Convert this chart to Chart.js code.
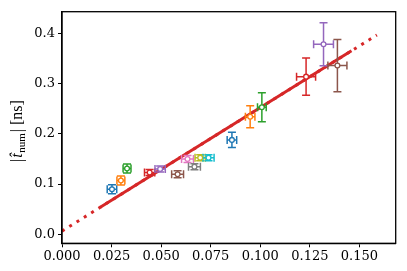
<!DOCTYPE html>
<html>
<head>
<meta charset="utf-8">
<script src="https://cdn.jsdelivr.net/npm/chart.js@4.4.0/dist/chart.umd.min.js"></script>
<style>
  html, body { margin: 0; padding: 0; background: #fff; }
</style>
</head>
<body>
<canvas id="chart" width="407" height="271"></canvas>
<script>
// measured points (x, y) with symmetric errors
const xVals = [0.0252, 0.0297, 0.0328, 0.0442, 0.0495, 0.0583, 0.0633, 0.0668, 0.0697, 0.0739, 0.0857, 0.0949, 0.1008, 0.1231, 0.1319, 0.1389];
const yVals = [0.0896, 0.107, 0.131, 0.123, 0.130, 0.1195, 0.150, 0.1347, 0.1526, 0.1526, 0.188, 0.234, 0.253, 0.314, 0.3785, 0.336];
const xErr = [0.0024, 0.0020, 0.0020, 0.0026, 0.0026, 0.0030, 0.0030, 0.0030, 0.0026, 0.0028, 0.0024, 0.0024, 0.0022, 0.0048, 0.0050, 0.0048];
const yErr = [0.009, 0.009, 0.009, 0.006, 0.006, 0.007, 0.007, 0.006, 0.006, 0.006, 0.015, 0.022, 0.029, 0.037, 0.043, 0.052];

const tab10 = ["#1f77b4", "#ff7f0e", "#2ca02c", "#d62728", "#9467bd", "#8c564b", "#e377c2", "#7f7f7f", "#bcbd22", "#17becf"];
const pointColors = xVals.map((_, i) => tab10[i % 10]);

const xTicks = [0, 0.025, 0.05, 0.075, 0.1, 0.125, 0.15];
const yTicks = [0, 0.1, 0.2, 0.3, 0.4];

// linear fit
const fitSlope = 2.46;
const fitIntercept = 0.0063;
const fitSolidRange = [0.0193, 0.146];
const fitDottedRange = [0, 0.1588];

const fitLine = (r) => r.map((x) => ({ x: x, y: fitSlope * x + fitIntercept }));

const errorBars = {
  id: "errorBars",
  beforeDatasetDraw(chart, args) {
    if (args.index !== 0) return;
    const { ctx, scales } = chart;
    const cap = 4;
    ctx.save();
    ctx.lineWidth = 1.5;
    xVals.forEach((xv, i) => {
      const px = scales.x.getPixelForValue(xv);
      const py = scales.y.getPixelForValue(yVals[i]);
      const x0 = scales.x.getPixelForValue(xv - xErr[i]);
      const x1 = scales.x.getPixelForValue(xv + xErr[i]);
      const y0 = scales.y.getPixelForValue(yVals[i] - yErr[i]);
      const y1 = scales.y.getPixelForValue(yVals[i] + yErr[i]);
      ctx.strokeStyle = pointColors[i];
      ctx.beginPath();
      ctx.moveTo(x0, py); ctx.lineTo(x1, py);
      ctx.moveTo(px, y0); ctx.lineTo(px, y1);
      // caps
      ctx.moveTo(x0, py - cap); ctx.lineTo(x0, py + cap);
      ctx.moveTo(x1, py - cap); ctx.lineTo(x1, py + cap);
      ctx.moveTo(px - cap, y0); ctx.lineTo(px + cap, y0);
      ctx.moveTo(px - cap, y1); ctx.lineTo(px + cap, y1);
      ctx.stroke();
    });
    ctx.restore();
  },
};

const frameAndLabel = {
  id: "frameAndLabel",
  afterDraw(chart) {
    const { ctx, chartArea } = chart;
    ctx.save();
    ctx.strokeStyle = "#000";
    ctx.lineWidth = 1.3;
    ctx.strokeRect(chartArea.left, chartArea.top, chartArea.right - chartArea.left, chartArea.bottom - chartArea.top);

    // y axis label |t̂_num| [ns]
    ctx.translate(17, 131);
    ctx.rotate(-Math.PI / 2);
    ctx.fillStyle = "#000";
    ctx.textBaseline = "alphabetic";
    const main = "16px 'Liberation Serif'";
    const ital = "italic 16px 'Liberation Serif'";
    const sub = "11px 'Liberation Serif'";
    const parts = [
      { t: "|", f: main, dy: 0, gap: 1 },
      { t: "t\u0302", f: ital, dy: 0, gap: 0.5 },
      { t: "num", f: sub, dy: 3, gap: 1 },
      { t: "|", f: main, dy: 0, gap: 0 },
      { t: " [ns]", f: main, dy: 0, gap: 0 },
    ];
    let total = 0;
    parts.forEach((p) => { ctx.font = p.f; p.w = ctx.measureText(p.t).width + p.gap; total += p.w; });
    let x = -total / 2;
    parts.forEach((p) => {
      ctx.font = p.f;
      ctx.fillText(p.t, x, 5 + p.dy);
      x += p.w;
    });
    ctx.restore();
  },
};

const tickFont = { family: "DejaVu Serif", size: 13 };

new Chart(document.getElementById("chart").getContext("2d"), {
  type: "scatter",
  data: {
    datasets: [
      {
        data: xVals.map((x, i) => ({ x: x, y: yVals[i] })),
        pointRadius: 2.4,
        pointBorderWidth: 1.3,
        pointBackgroundColor: "#fff",
        pointBorderColor: pointColors,
        showLine: false,
      },
      {
        type: "line",
        data: fitLine(fitSolidRange),
        borderColor: "#d62728",
        borderWidth: 3,
        pointRadius: 0,
      },
      {
        type: "line",
        data: fitLine(fitDottedRange),
        borderColor: "#d62728",
        borderWidth: 3,
        borderDash: [3, 5.6],
        pointRadius: 0,
      },
    ],
  },
  options: {
    responsive: false,
    devicePixelRatio: 1,
    animation: false,
    layout: { padding: { top: 11.7, right: 11.3, left: 0, bottom: 0 } },
    plugins: { legend: { display: false }, tooltip: { enabled: false } },
    scales: {
      x: {
        type: "linear",
        min: 0,
        max: 0.1683,
        afterBuildTicks: (axis) => { axis.ticks = xTicks.map((v) => ({ value: v })); },
        afterFit: (axis) => { axis.height = 27.7; },
        ticks: { callback: (v) => v.toFixed(3), font: tickFont, color: "#000", maxRotation: 0, padding: 2 },
        grid: { drawOnChartArea: false, tickLength: 4, tickColor: "#000", tickWidth: 1 },
        border: { color: "#000", width: 1.3 },
      },
      y: {
        type: "linear",
        min: -0.018,
        max: 0.4434,
        afterBuildTicks: (axis) => { axis.ticks = yTicks.map((v) => ({ value: v })); },
        afterFit: (axis) => { axis.width = 62; },
        ticks: { callback: (v) => v.toFixed(1), font: tickFont, color: "#000", padding: 3 },
        grid: { drawOnChartArea: false, tickLength: 4, tickColor: "#000", tickWidth: 1 },
        border: { color: "#000", width: 1.3 },
      },
    },
  },
  plugins: [errorBars, frameAndLabel],
});
</script>
</body>
</html>
